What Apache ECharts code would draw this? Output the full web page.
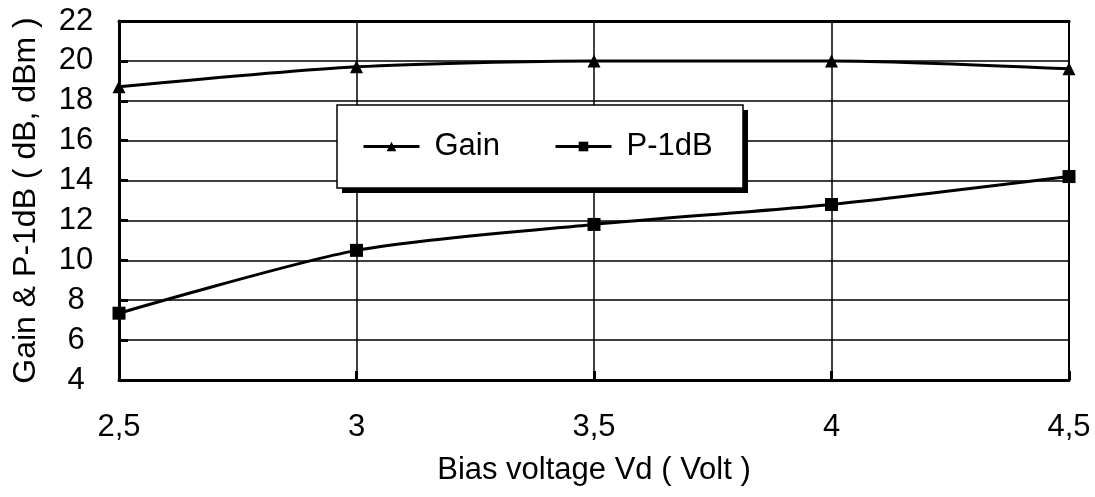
<!DOCTYPE html>
<html>
<head>
<meta charset="utf-8">
<script src="https://cdn.jsdelivr.net/npm/echarts@6/dist/echarts.min.js"></script>
<style>html,body{margin:0;padding:0;background:#fff}#c{width:1095px;height:497px}</style>
</head>
<body>
<div id="c"></div>
<script>
const voltages = [2.5, 3, 3.5, 4, 4.5];
const gain = [18.7, 19.7, 20.0, 20.0, 19.6];
const p1db = [7.35, 10.5, 11.8, 12.8, 14.2];
const seriesNames = ['Gain', 'P-1dB'];
const xTitle = 'Bias voltage Vd ( Volt )';
const yTitle = 'Gain & P-1dB ( dB, dBm )';

const font = 'Liberation Sans, Arial, sans-serif';
const fs = 31;
const chart = echarts.init(document.getElementById('c'), null, {renderer: 'canvas'});
const pairs = (xs, ys) => xs.map((x, i) => [x, ys[i]]);

chart.setOption({
  animation: false,
  backgroundColor: '#fff',
  textStyle: {fontFamily: font, color: '#000'},
  grid: {left: 119, right: 26, top: 21, bottom: 117, show: true, borderColor: '#000', borderWidth: 2, backgroundColor: 'transparent'},
  graphic: [
    {type: 'rect', z: 3, shape: {x: 342, y: 110, width: 406, height: 83}, style: {fill: '#000'}},
    {type: 'rect', z: 3, shape: {x: 337, y: 105, width: 406, height: 83}, style: {fill: '#fff', stroke: '#000', lineWidth: 1.5}}
  ],
  legend: {
    data: seriesNames,
    left: 362, top: 131,
    padding: 0,
    itemWidth: 56, itemHeight: 12, itemGap: 54,
    lineStyle: {width: 3},
    textStyle: {fontFamily: font, fontSize: fs, color: '#000', padding: [0, 0, 0, 10]}
  },
  xAxis: [{
    type: 'value', min: 2.5, max: 4.5, interval: 0.5,
    name: xTitle, nameLocation: 'middle', nameGap: 75,
    nameTextStyle: {fontFamily: font, fontSize: fs, color: '#000'},
    axisLine: {show: true, onZero: false, lineStyle: {color: '#000', width: 3}},
    axisTick: {show: true, inside: true, length: 9, lineStyle: {color: '#000', width: 3}},
    axisLabel: {margin: 32, fontFamily: font, fontSize: fs, color: '#000', formatter: v => String(v).replace('.', ',')},
    splitLine: {show: true, lineStyle: {color: '#000', width: 1.5}}
  }, {
    type: 'value', position: 'top', min: 2.5, max: 4.5, interval: 0.5,
    axisLine: {show: true, onZero: false, lineStyle: {color: '#000', width: 3}},
    axisTick: {show: false}, axisLabel: {show: false}, splitLine: {show: false}
  }],
  yAxis: {
    type: 'value', min: 4, max: 22, interval: 2,
    name: yTitle, nameLocation: 'middle', nameGap: 77,
    nameTextStyle: {fontFamily: font, fontSize: 32, color: '#000'},
    axisLine: {show: true, onZero: false, lineStyle: {color: '#000', width: 3}},
    axisTick: {show: true, inside: true, length: 9, lineStyle: {color: '#000', width: 3}},
    axisLabel: {margin: 43, align: 'center', fontFamily: font, fontSize: fs, color: '#000'},
    splitLine: {show: true, lineStyle: {color: '#000', width: 1.5}}
  },
  series: [{
    name: seriesNames[0], type: 'line', data: pairs(voltages, gain),
    smooth: 0.25, symbol: 'triangle', symbolSize: 13,
    lineStyle: {color: '#000', width: 3}, itemStyle: {color: '#000'}, z: 5
  }, {
    name: seriesNames[1], type: 'line', data: pairs(voltages, p1db),
    smooth: 0.25, symbol: 'rect', symbolSize: 13,
    lineStyle: {color: '#000', width: 3}, itemStyle: {color: '#000'}, z: 5
  }]
});
</script>
</body>
</html>
